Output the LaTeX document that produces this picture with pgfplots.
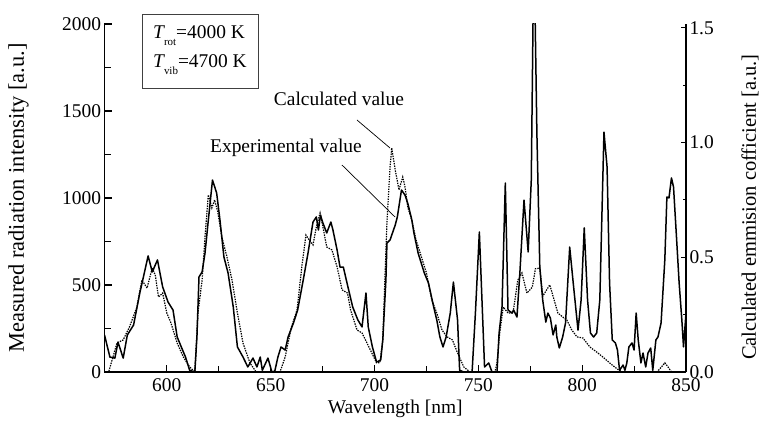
\documentclass[border=0pt]{standalone}
\usepackage{fontspec}
\setmainfont{Liberation Serif}
\usepackage{pgfplots}
\usepackage{pgfplotstable}
\pgfplotsset{compat=1.18}

% measured spectrum, left axis
\pgfplotstableread{
lam val
570 213
572.6 86
575 80
576.5 172
579 80
581 213
584 270
587 454
589 560
591 667
593 575
595.5 644
598 489
600.6 402
603 356
605 201
609 86
611 10
613.5 0
614.5 200
615.5 546
617 575
618.4 684
620 873
622 1103
624 1029
625.6 873
627.5 661
629.5 569
632 374
634 144
636.7 86
639 29
641.5 80
643.4 29
645 86
646 10
648.7 80
650.6 0
652 5
653.5 86
655 144
657 126
658.4 201
661 282
663 356
665.7 529
668 684
670.4 862
672 891
673 816
674 902
675 862
677 799
679 862
680 816
682 701
683.4 603
685 603
687 500
689.5 374
692 299
694 259
695.9 454
697 259
699 144
701 57
703 69
704 184
705.5 529
706 741
707.5 759
710 845
711 891
713 1046
714.7 1017
716 971
718 873
719 799
721 684
724 569
726 511
728.5 374
730 299
731.5 201
733 144
734.5 201
736.5 339
738 517
740 299
741 10
743 0
747 0
748.6 339
750.5 805
752 339
753 29
755 52
756.6 0
759 0
760 224
761.4 374
763 1086
764.3 356
766.2 339
767 356
768.6 316
770 569
772 988
774 690
775.5 1103
776.4 2080
777.3 2080
778.2 1373
779.6 603
781 414
782.5 287
783.5 339
784.7 310
786 213
787.3 270
787.8 201
789 138
790.6 201
792 282
794 718
795.7 511
798 241
799.5 414
801 828
802.6 414
804 224
805.5 201
807 224
808.5 414
810.5 1379
812 1178
813.2 511
814.5 184
816 167
817 126
818 10
819.7 40
820.6 10
821.5 52
822.5 144
824 167
825 126
826 339
827 184
828.3 52
829.3 109
830.6 29
831.7 109
833 138
834 10
835.5 184
836.5 201
838 282
839.8 644
840.8 1006
841.8 1000
843 1115
844 1063
845.5 759
846.7 511
848 299
848.8 144
850 339
}\measured

% calculated coefficient, right axis
\pgfplotstableread{
lam val
570 0
572 0
576 0.126
579 0.14
582 0.196
585.6 0.283
588 0.401
590.5 0.366
593 0.454
594.5 0.42
596 0.327
598 0.344
600 0.257
602 0.214
605 0.126
608 0.065
611 0.022
613.5 0
615 0.257
617 0.40
618.4 0.589
620 0.772
621.7 0.715
623 0.75
624.5 0.70
626.5 0.589
629 0.50
631.4 0.401
634 0.257
636.7 0.126
640 0.04
643 0
654.5 0
657 0.065
660 0.196
662.7 0.27
665 0.458
667 0.597
668.5 0.576
670.4 0.554
672 0.632
673.8 0.693
675 0.641
677 0.545
679.5 0.532
682 0.458
684.4 0.358
687 0.344
688.5 0.27
691.6 0.183
694 0.17
696.4 0.126
698.7 0.083
701 0.04
702.6 0.04
704 0.14
705 0.40
706 0.65
707.5 0.894
708.3 0.977
710 0.88
711.8 0.794
713.6 0.85
714.7 0.807
716 0.72
718 0.66
720 0.576
722 0.519
725 0.432
727.6 0.314
730 0.257
732.5 0.183
735 0.153
737.5 0.14
740 0.083
743 0.022
746 0
758 0
759 0.04
760.3 0.17
762 0.283
764.3 0.257
766.7 0.257
769 0.40
771 0.432
773.4 0.344
776 0.37
777.5 0.45
779.6 0.453
781 0.33
784.4 0.38
786 0.33
788.3 0.257
790.6 0.24
792.6 0.227
795 0.183
797.5 0.153
800.4 0.148
803.7 0.109
807 0.087
810 0.065
814.5 0.03
817.4 0.01
819.3 0
836 0
838 0.02
839.8 0.04
841.5 0.02
843 0
850 0
}\calculated

\pgfplotsset{
  every axis/.append style={
    scale only axis, width=581.5bp, height=348bp,
    at={(0,0)}, anchor=south west,
    xmin=570, xmax=850,
    axis line style={-, line width=1.2bp},
    /pgf/number format/assume math mode=true,
    /pgf/number format/1000 sep={},
  },
}

\begin{document}
\begin{tikzpicture}[font=\fontsize{19.5}{23}\selectfont]

\begin{axis}[
  axis y line*=left, axis x line*=bottom,
  tick align=inside,
  ymin=0, ymax=2000,
  ytick={0,500,...,2000}, minor y tick num=1,
  xtick={600,650,...,850}, minor x tick num=1,
  major tick length=7bp, minor tick length=6bp,
  tick style={line width=1.1bp, black},
  xticklabel style={yshift=-3bp},
  clip mode=individual,
  xlabel={Wavelength [nm]},
  ylabel={Measured radiation intensity [a.u.]},
  xlabel style={at={(axis description cs:0.5,-0.105)}, anchor=center},
  ylabel style={at={(axis description cs:-0.148,0.5)}, anchor=center,
    font=\fontsize{22.5}{26}\selectfont},
]
\addplot[black, line width=1.5bp, line join=round] table[x=lam, y=val] {\measured};

\draw[line width=0.8bp, black!75] (axis description cs:0.0645,1.0287) rectangle (axis description cs:0.264,0.816);
\node[anchor=base west, inner sep=0pt] at (axis description cs:0.0834,0.957)
  {{\itshape T}\raisebox{-0.35em}{\fontsize{11}{11}\selectfont rot}=4000 K};
\node[anchor=base west, inner sep=0pt] at (axis description cs:0.0834,0.8736)
  {{\itshape T}\raisebox{-0.35em}{\fontsize{11}{11}\selectfont vib}=4700 K};

\node[inner sep=0pt] at (axis description cs:0.4032,0.785) {Calculated value};
\draw[line width=0.7bp] (axis description cs:0.4342,0.7241) -- (axis description cs:0.4910,0.6437);
\node[inner sep=0pt] at (axis description cs:0.3121,0.645) {Experimental value};
\draw[line width=0.7bp] (axis description cs:0.4084,0.5948) -- (axis description cs:0.4996,0.4454);
\end{axis}

\begin{axis}[
  axis y line*=right, axis x line=none,
  tick align=inside,
  ymin=0, ymax=1.517,
  ytick={0,0.5,1,1.5}, minor y tick num=1,
  major tick length=5bp, minor tick length=3.5bp,
  tick style={line width=1.1bp, black},
  yticklabel style={/pgf/number format/.cd, fixed, fixed zerofill, precision=1},
  ylabel={Calculated emmision cofficient [a.u.]},
  ylabel style={at={(axis description cs:1.110,0.474)}, anchor=center, rotate=0,
    font=\fontsize{20.6}{24}\selectfont},
]
\addplot[black, line width=1.2bp, dash pattern=on 1.4bp off 1.1bp] table[x=lam, y=val] {\calculated};
\end{axis}

\pgfresetboundingbox
\path (-104.5bp,-60bp) rectangle (662.5bp,372bp);
\end{tikzpicture}
\end{document}
